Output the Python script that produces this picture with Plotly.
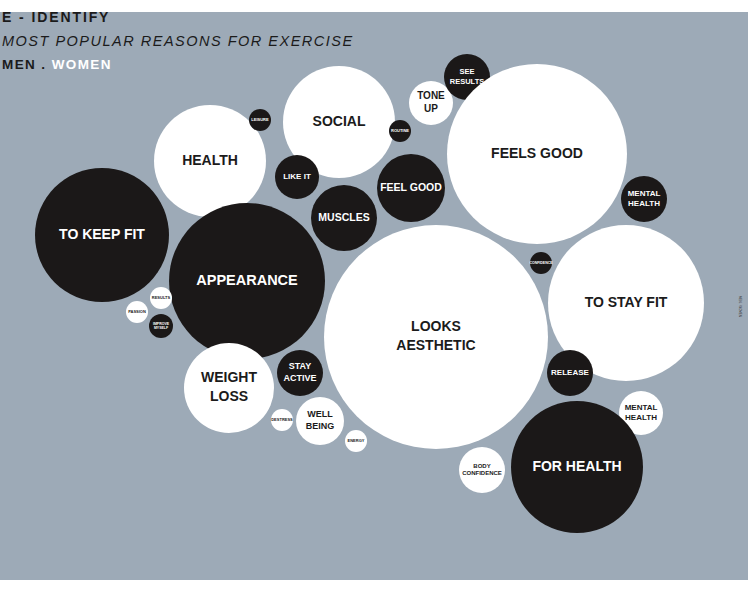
import plotly.graph_objects as go

# ---- data ----
labels = [
    "TO KEEP FIT", "HEALTH", "LEISURE", "SOCIAL", "TONE<br>UP", "SEE<br>RESULTS",
    "FEELS GOOD", "ROUTINE", "LIKE IT", "FEEL GOOD", "MUSCLES", "MENTAL<br>HEALTH",
    "APPEARANCE", "RESULTS", "PASSION", "IMPROVE<br>MYSELF", "LOOKS<br>AESTHETIC",
    "CONFIDENCE", "TO STAY FIT", "RELEASE", "MENTAL<br>HEALTH", "FOR HEALTH",
    "BODY<br>CONFIDENCE", "WEIGHT<br>LOSS", "STAY<br>ACTIVE", "WELL<br>BEING",
    "DESTRESS", "ENERGY",
]
group = [
    "men", "women", "men", "women", "women", "men",
    "women", "men", "men", "men", "men", "men",
    "men", "women", "women", "men", "women",
    "men", "women", "men", "women", "men",
    "women", "women", "men", "women",
    "women", "women",
]
cx = [102, 210, 260, 339, 431, 467,
      537, 400, 297, 411, 344, 644,
      247, 161, 137, 161, 436,
      541, 626, 570, 641, 577,
      482, 229, 300, 320,
      282, 356]
cy = [235, 161, 120, 122, 103, 77,
      154, 131, 177, 188, 218, 199,
      281, 298, 312, 326, 337,
      263, 303, 373, 413, 467,
      470, 388, 373, 421,
      420, 441]
radius = [67, 56, 11, 56, 22, 23,
          90, 11, 22, 34, 33, 23,
          78, 11, 11, 12, 112,
          11, 78, 23, 22, 66,
          23, 45, 23, 24,
          11, 11]
label_size = [14, 14, 4, 14, 10, 7.5,
              14, 4, 8, 10.5, 10.5, 8,
              14.5, 4, 4, 3.5, 14,
              3.5, 14, 8, 8, 14,
              6, 14, 9, 9,
              4, 4]

BLACK = "#1b1818"
WHITE = "#ffffff"
BG = "#9daab7"

fill = [BLACK if g == "men" else WHITE for g in group]
txtcol = [WHITE if g == "men" else "#1b1b1b" for g in group]

fig = go.Figure()
fig.add_trace(go.Scatter(
    x=cx, y=cy, mode="markers+text",
    text=labels, textposition="middle center",
    textfont=dict(family="Liberation Sans, Arial, sans-serif", size=label_size,
                  color=txtcol, weight="bold"),
    marker=dict(size=[2 * r for r in radius], color=fill, line=dict(width=0),
                opacity=1),
    hoverinfo="text", showlegend=False,
))

W, H = 750, 590
L, R, T, B = 0, 2, 12, 10

fig.update_layout(
    width=W, height=H,
    margin=dict(l=L, r=R, t=T, b=B),
    paper_bgcolor="white", plot_bgcolor=BG,
    xaxis=dict(range=[L, W - R], visible=False, showgrid=False, zeroline=False),
    yaxis=dict(range=[H - B, T], visible=False, showgrid=False, zeroline=False),
)

font_main = "Liberation Sans, Arial, sans-serif"
fig.add_annotation(x=0, y=17, xref="paper", yref="y", xanchor="left", yanchor="middle",
                   text="<b><span style='letter-spacing:1.9px'>E - IDENTIFY</span></b>",
                   showarrow=False,
                   font=dict(family=font_main, size=14, color="#1b1b1b"))
fig.add_annotation(x=0, y=41, xref="paper", yref="y", xanchor="left", yanchor="middle",
                   text="<i><span style='letter-spacing:1.5px'>MOST POPULAR REASONS FOR EXERCISE</span></i>",
                   showarrow=False,
                   font=dict(family=font_main, size=14.5, color="#1b1b1b"))
fig.add_annotation(x=0, y=64, xref="paper", yref="y", xanchor="left", yanchor="middle",
                   text="<b><span style='letter-spacing:1.4px'>MEN . </span>"
                        "<span style='letter-spacing:1.4px;fill:white'>WOMEN</span></b>",
                   showarrow=False,
                   font=dict(family=font_main, size=13.5, color="#1b1b1b"))
fig.add_annotation(x=740, y=306, xref="x", yref="y", showarrow=False, textangle=90,
                   text="MEN . WOMEN", font=dict(family=font_main, size=3, color="#333"))

fig.write_html("out.html", config={"displayModeBar": False},
               post_script="document.body.style.margin='0';")
